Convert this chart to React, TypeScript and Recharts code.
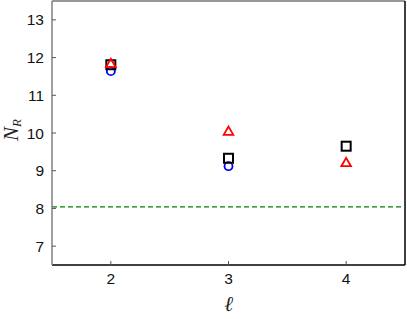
import React from "react";
import {
  ScatterChart,
  Scatter,
  XAxis,
  YAxis,
  ReferenceLine,
} from "recharts";

// values
const squareL = [2, 3, 4];
const squareN = [11.81, 9.33, 9.65];
const circleL = [2, 3];
const circleN = [11.64, 9.12];
const triangleL = [2, 3, 4];
const triangleN = [11.85, 10.05, 9.22];
const baselineN = 8.04;

const xTicks = [2, 3, 4];
const yTicks = [7, 8, 9, 10, 11, 12, 13];

const toPoints = (ls: number[], ns: number[]) =>
  ls.map((l, i) => ({ l, n: ns[i] }));

const FONT = "'Liberation Sans', Arial, sans-serif";
const TICK_MARGIN = 8;
const TICK_LEN = 4;

const Square = (p: any) => (
  <rect
    x={p.cx - 4.5}
    y={p.cy - 4.5}
    width={9}
    height={9}
    fill="none"
    stroke="#000"
    strokeWidth={2}
  />
);

const Circle = (p: any) => (
  <circle cx={p.cx} cy={p.cy} r={4} fill="none" stroke="#0000ff" strokeWidth={1.8} />
);

const Triangle = (p: any) => (
  <path
    d={`M${p.cx},${p.cy - 4.5} L${p.cx + 4.8},${p.cy + 3.8} L${p.cx - 4.8},${p.cy + 3.8} Z`}
    fill="none"
    stroke="#ff0000"
    strokeWidth={1.8}
    strokeLinejoin="miter"
  />
);

const YTick = (p: any) => {
  const ax = p.x + TICK_MARGIN;
  return (
    <g>
      <line x1={ax} x2={ax + TICK_LEN} y1={p.y} y2={p.y} stroke="#555" strokeWidth={1} />
      <text x={p.x} y={p.y} dy="0.36em" textAnchor="end" fontSize={15.5} fontFamily={FONT} fill="#111">
        {p.payload.value}
      </text>
    </g>
  );
};

const XTick = (p: any) => {
  const ay = p.y - TICK_MARGIN;
  return (
    <g>
      <line x1={p.x} x2={p.x} y1={ay} y2={ay - TICK_LEN} stroke="#555" strokeWidth={1} />
      <text x={p.x} y={p.y} dy="0.72em" textAnchor="middle" fontSize={15.5} fontFamily={FONT} fill="#111">
        {p.payload.value}
      </text>
    </g>
  );
};

const YLabel = (p: any) => {
  const vb = p.viewBox || { x: 0, y: 0, width: 52, height: 264 };
  const x = vb.x + 18;
  const y = vb.y + vb.height / 2 - 3;
  return (
    <text
      x={x}
      y={y}
      textAnchor="middle"
      transform={`rotate(-90, ${x}, ${y})`}
      fontFamily="'Liberation Serif', 'DejaVu Serif', serif"
      fontStyle="italic"
      fontSize={21}
      fill="#222"
    >
      N
      <tspan fontSize={13} dy={3}>R</tspan>
    </text>
  );
};

const XLabel = (p: any) => {
  const vb = p.viewBox || { x: 52, y: 265, width: 353, height: 54 };
  return (
    <text
      x={vb.x + vb.width / 2}
      y={vb.y + 46}
      textAnchor="middle"
      fontFamily="'Liberation Serif', 'DejaVu Serif', serif"
      fontStyle="italic"
      fontSize={21}
      fill="#222"
    >
      ℓ
    </text>
  );
};

export default function App() {
  return (
    <div style={{ position: "absolute", left: 0, top: 0, background: "#fff" }}>
      <ScatterChart
        width={407}
        height={319}
        margin={{ top: 1, right: 2, bottom: 0, left: 0 }}
      >
        <XAxis
          type="number"
          dataKey="l"
          domain={[1.5, 4.5]}
          ticks={xTicks}
          height={54}
          tickSize={0}
          tickMargin={TICK_MARGIN}
          tick={<XTick />}
          axisLine={{ stroke: "#000", strokeWidth: 1.3 }}
          label={<XLabel />}
          allowDataOverflow
        />
        <YAxis
          type="number"
          dataKey="n"
          domain={[6.5, 13.5]}
          ticks={yTicks}
          width={52}
          tickSize={0}
          tickMargin={TICK_MARGIN}
          tick={<YTick />}
          axisLine={{ stroke: "#808080", strokeWidth: 1.5 }}
          label={<YLabel />}
          allowDataOverflow
        />
        <ReferenceLine y={13.5} stroke="#333" strokeWidth={1.2} />
        <ReferenceLine x={4.5} stroke="#000" strokeWidth={1.5} />
        <ReferenceLine
          y={baselineN}
          stroke="#008000"
          strokeWidth={1.2}
          strokeDasharray="5 3"
        />
        <Scatter
          data={toPoints(circleL, circleN)}
          shape={<Circle />}
          isAnimationActive={false}
        />
        <Scatter
          data={toPoints(squareL, squareN)}
          shape={<Square />}
          isAnimationActive={false}
        />
        <Scatter
          data={toPoints(triangleL, triangleN)}
          shape={<Triangle />}
          isAnimationActive={false}
        />
      </ScatterChart>
    </div>
  );
}
